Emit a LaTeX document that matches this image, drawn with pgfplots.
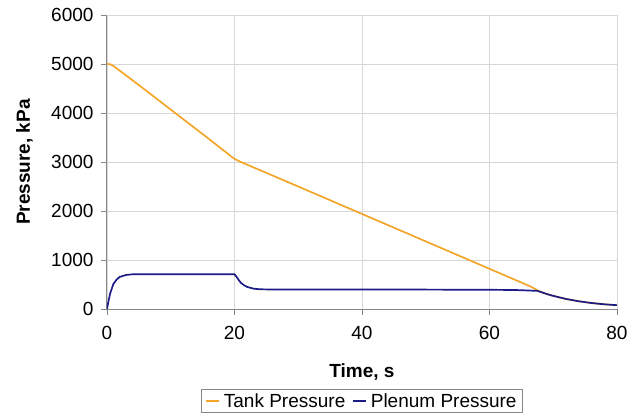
\documentclass[border=0pt]{standalone}
\usepackage{pgfplots}
\pgfplotsset{compat=1.18}
\usepackage{fontspec}
\setmainfont{Liberation Sans}

\definecolor{tankc}{RGB}{243,166,42}
\definecolor{plenc}{RGB}{28,28,135}
\definecolor{gridc}{RGB}{215,215,215}
\definecolor{axisc}{RGB}{135,135,135}

\begin{document}
\begin{tikzpicture}
\begin{axis}[
    scale only axis,
    width=510pt, height=294pt,
    xmin=0, xmax=80, ymin=0, ymax=6000,
    xtick={0,20,40,60,80},
    ytick={0,1000,...,6000},
    axis lines*=left,
    axis line style={axisc, line width=1pt},
    major tick style={axisc, line width=0.8pt},
    tick align=outside,
    major tick length=6pt,
    grid=major,
    major grid style={gridc, line width=0.8pt},
    font=\fontsize{19}{22}\selectfont,
    /pgf/number format/assume math mode=true,
    /pgf/number format/set thousands separator={},
    xticklabel style={yshift=-8pt},
    yticklabel style={xshift=-4pt},
    xlabel={\textbf{Time, s}},
    ylabel={\textbf{Pressure, kPa}},
    xlabel style={at={(axis description cs:0.5,-0.214)}, anchor=center},
    ylabel style={at={(axis description cs:-0.162,0.5)}, anchor=center},
    legend columns=2,
    legend style={at={(axis description cs:0.5,-0.272)}, anchor=north,
        draw=axisc, line width=0.8pt, inner xsep=4pt, inner ysep=2pt,
        font=\fontsize{19}{22}\selectfont,
        /tikz/every even column/.append style={column sep=5pt}},
    legend image code/.code={\draw[#1, line width=1.5pt] (0pt,0pt) -- (13pt,0pt);},
]

% Tank Pressure
\addplot[tankc, line width=1.7pt] coordinates {
    (0,5000) (0.5,4995) (1,4960) (2,4865) (5,4570) (10,4070) (15,3570)
    (19,3165) (19.5,3112) (20,3065) (20.5,3030) (21,3000) (22,2945)
    (30,2500) (40,1940) (50,1380) (60,820) (65,540) (66.5,455)
    (67.5,385) (68,350) (69,305) (70,268) (72,205) (74,158)
    (76,122) (78,96) (80,78)
};
\addlegendentry{\hspace{2pt}Tank Pressure}

% Plenum Pressure
\addplot[plenc, line width=1.7pt] coordinates {
    (0,0) (0.25,170) (0.5,320) (1,510) (1.5,600) (2,655) (3,695)
    (4,708) (5,710) (20,710) (20.3,660) (20.7,585) (21,535)
    (21.5,485) (22,450) (23,415) (24,402) (25,400) (40,400)
    (60,392) (64,388) (66,378) (67.5,370) (68,350) (69,305)
    (70,268) (72,205) (74,158) (76,122) (78,96) (80,78)
};
\addlegendentry{\hspace{2pt}Plenum Pressure}

\end{axis}
\path (current axis.south west) ++(-107pt,-109pt) rectangle ++(635pt,418pt);
\end{tikzpicture}
\end{document}
